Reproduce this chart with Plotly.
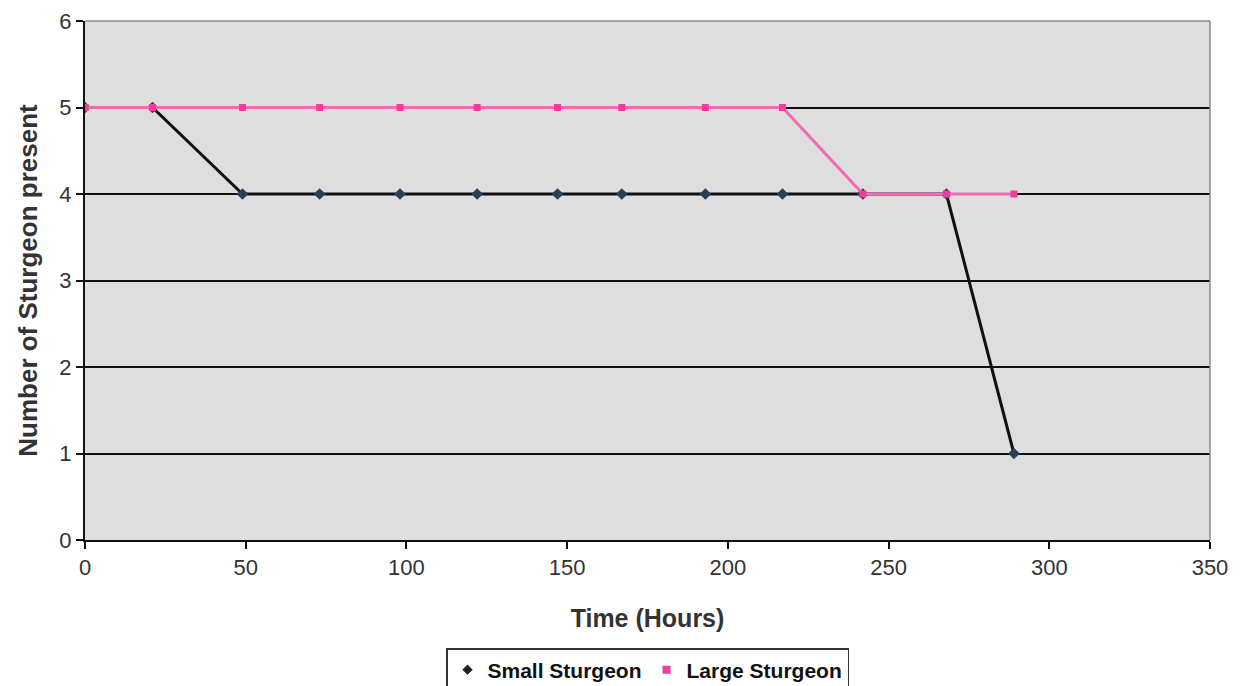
import plotly.graph_objects as go

time_hours = [0, 21, 49, 73, 98, 122, 147, 167, 193, 217, 242, 268, 289]
small_sturgeon = [5, 5, 4, 4, 4, 4, 4, 4, 4, 4, 4, 4, 1]
large_sturgeon = [5, 5, 5, 5, 5, 5, 5, 5, 5, 5, 4, 4, 4]

x_ticks = [0, 50, 100, 150, 200, 250, 300, 350]
y_ticks = [0, 1, 2, 3, 4, 5, 6]

SMALL_LINE = "#111111"
SMALL_MARK = "#2a3f5a"
LARGE_LINE = "#f06cb4"
LARGE_MARK = "#f23d9c"

fig = go.Figure()
fig.add_trace(go.Scatter(
    x=time_hours, y=small_sturgeon, name="Small Sturgeon", mode="lines+markers",
    line=dict(color=SMALL_LINE, width=3),
    marker=dict(symbol="diamond", size=9, color=SMALL_MARK),
    showlegend=False,
))
fig.add_trace(go.Scatter(
    x=time_hours, y=large_sturgeon, name="Large Sturgeon", mode="lines+markers",
    line=dict(color=LARGE_LINE, width=3),
    marker=dict(symbol="square", size=7, color=LARGE_MARK),
    showlegend=False,
))
# legend entries (marker-only keys, as in the reference)
fig.add_trace(go.Scatter(
    x=[None], y=[None], name="Small Sturgeon", mode="markers",
    marker=dict(symbol="diamond", size=8, color="#222222"),
))
fig.add_trace(go.Scatter(
    x=[None], y=[None], name="Large Sturgeon", mode="markers",
    marker=dict(symbol="square", size=8, color=LARGE_MARK),
))

fig.update_layout(
    width=1241, height=686,
    margin=dict(l=85, r=31, t=21, b=146, autoexpand=False),
    paper_bgcolor="white",
    plot_bgcolor="#dedede",
    font=dict(family="Liberation Sans, Arial, sans-serif", color="#222222"),
    showlegend=True,
    legend=dict(
        orientation="h", x=0.5, xanchor="center",
        yref="container", y=1 - 648 / 686, yanchor="top",
        bordercolor="#333333", borderwidth=1.5, bgcolor="white",
        font=dict(size=21, family="Liberation Sans, Arial, sans-serif", color="#111111", weight="bold"),
        itemwidth=30, tracegroupgap=0,
    ),
    xaxis=dict(
        range=[0, 350], tickvals=x_ticks, showgrid=False, zeroline=False,
        showline=True, linecolor="#111111", linewidth=2, automargin=False,
        ticks="outside", ticklen=7, tickcolor="#111111", tickwidth=2,
        tickfont=dict(size=22, color="#333333"),
        title=dict(text="<b>Time (Hours)</b>", font=dict(size=25, color="#333333"), standoff=30),
    ),
    yaxis=dict(
        range=[0, 6], tickvals=y_ticks, showgrid=True, gridcolor="#111111", gridwidth=2,
        zeroline=False, showline=True, linecolor="#111111", linewidth=2, automargin=False,
        ticks="outside", ticklen=7, tickcolor="#111111", tickwidth=2,
        tickfont=dict(size=22, color="#333333"),
        title=dict(text="<b>Number of Sturgeon present</b>", font=dict(size=26, color="#333333"), standoff=14),
    ),
    shapes=[
        dict(type="line", xref="paper", yref="paper", x0=0, x1=1, y0=1, y1=1,
             line=dict(color="#8a8a8a", width=1.5)),
        dict(type="line", xref="paper", yref="paper", x0=1, x1=1, y0=0, y1=1,
             line=dict(color="#8a8a8a", width=1.5)),
    ],
)

fig.write_html("out.html")
